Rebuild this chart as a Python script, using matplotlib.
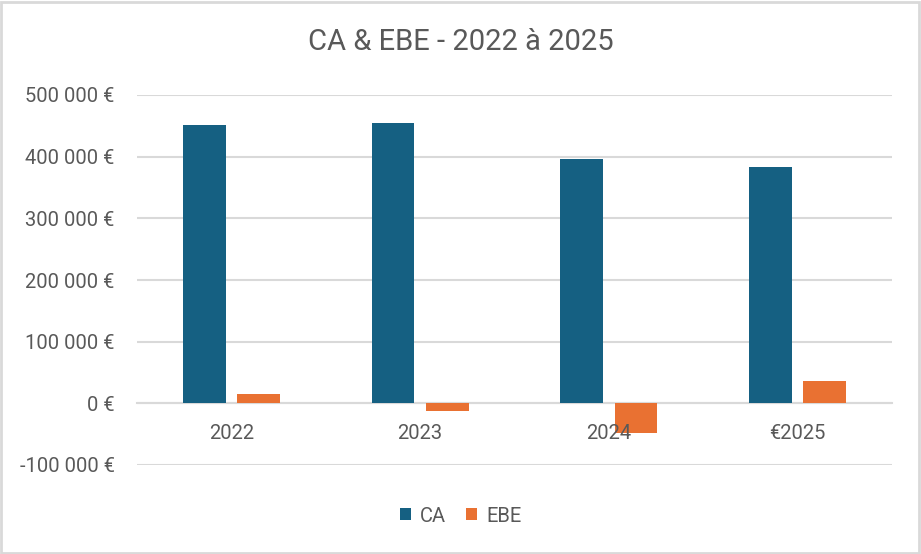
import matplotlib.pyplot as plt
import numpy as np

years = ["2022", "2023", "2024", "€2025"]
ca = [452000, 454000, 396000, 384000]
ebe = [15000, -13000, -48000, 36500]
yticks = [-100000, 0, 100000, 200000, 300000, 400000, 500000]
ytick_labels = ["-100 000 €", "0 €", "100 000 €", "200 000 €",
                "300 000 €", "400 000 €", "500 000 €"]

plt.rcParams["font.family"] = ["Roboto", "DejaVu Sans"]
grey = "#595959"

fig = plt.figure(figsize=(9.21, 5.54), dpi=100)
ax = fig.add_axes([137 / 921, 89 / 554, 755 / 921, 370 / 554])

x = np.arange(len(years))
w = 0.227
off = 0.1435
ax.bar(x - off, ca, w, color="#156082", label="CA", zorder=2)
ax.bar(x + off, ebe, w, color="#E97132", label="EBE", zorder=2)

ax.set_xlim(-0.5, len(years) - 0.5)
ax.set_ylim(-100000, 500000)
ax.set_yticks(yticks)
ax.set_yticklabels(ytick_labels)
ax.grid(axis="y", color="#D9D9D9", linewidth=1.5)
ax.yaxis.set_zorder(0.5)
ax.xaxis.set_zorder(5)

for s in ["top", "right", "left"]:
    ax.spines[s].set_visible(False)
ax.spines["bottom"].set_position(("data", 0))
ax.spines["bottom"].set_color("#D9D9D9")
ax.spines["bottom"].set_linewidth(1.5)
ax.spines["bottom"].set_zorder(1)

ax.set_xticks(x)
ax.set_xticklabels(years)
ax.tick_params(axis="x", length=0, pad=15, labelsize=14.5, labelcolor=grey)
ax.tick_params(axis="y", length=0, pad=16, labelsize=14.5, labelcolor=grey)

fig.text(0.5, 1 - 42 / 554, "CA & EBE - 2022 à 2025", ha="center", va="center",
         fontsize=21, color=grey)

fig.legend(loc="center", bbox_to_anchor=(0.5, 1 - 516 / 554), ncol=2,
           frameon=False, fontsize=14.5, labelcolor=grey, handlelength=0.55,
           handleheight=0.55, handletextpad=0.45, columnspacing=1.0)

border = plt.Rectangle((0.001, 0.002), 0.997, 0.995, transform=fig.transFigure,
                       fill=False, edgecolor="#D9D9D9", linewidth=2)
fig.patches.append(border)

fig.savefig("out.png", dpi=100)
